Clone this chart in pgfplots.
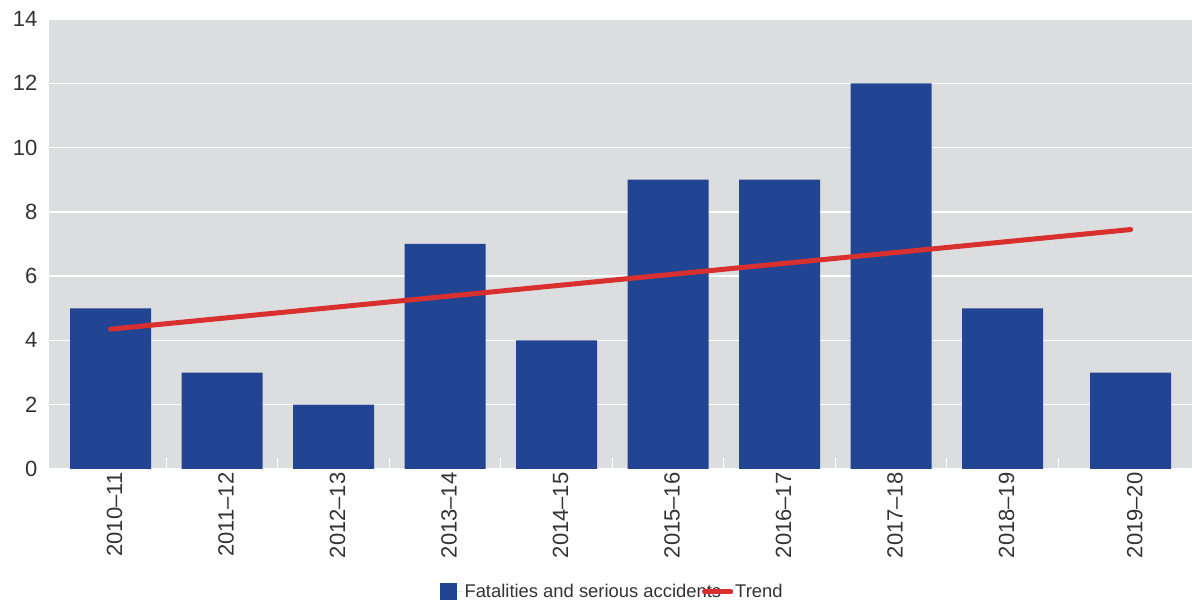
\documentclass[border=0pt]{standalone}
\usepackage{pgfplots}
\pgfplotsset{compat=1.18}
\usepackage{fontspec}
\setmainfont{Liberation Sans}
\definecolor{bgGray}{HTML}{DCDDDF}
\definecolor{barBlue}{HTML}{214493}
\definecolor{trendRed}{HTML}{D8302F}
\definecolor{txt}{HTML}{333333}
\begin{document}
\begin{tikzpicture}
\path[use as bounding box] (0,0) rectangle (1192pt,605pt);
\begin{axis}[
  at={(49pt,136pt)}, anchor=south west,
  width=1143pt, height=450pt, scale only axis,
  xmin=-0.552, xmax=9.70, ymin=0, ymax=14,
  ytick={0,2,...,14},
  xtick={0,1,2,3,4,5,6,7,8,9.15},
  xtick pos=lower,
  xticklabels={2010--11,2011--12,2012--13,2013--14,2014--15,2015--16,2016--17,2017--18,2018--19,2019--20},
  x tick label style={rotate=90, anchor=east, yshift=-4pt},
  y tick label style={xshift=-8pt},
  ticklabel style={font=\fontsize{22}{26}\selectfont, text=txt},
  /pgf/number format/assume math mode=true,
  axis line style={draw=none},
  major tick length=0pt,
  ymajorgrids, grid style={white, line width=1.3pt},
  axis background/.style={fill=bgGray},
  extra x ticks={0.5,1.5,...,8.5},
  extra x tick labels={},
  extra x tick style={major tick length=11pt, tick style={white, line width=1.2pt}, grid=none, xtick pos=lower},
  legend style={at={(0.4926,-0.273)}, anchor=center, draw=none, fill=none,
    legend columns=2, font=\fontsize{18.4}{22}\selectfont, text=txt,
    /tikz/every even column/.append style={column sep=-21pt}},
]
\addplot[ybar, bar width=81pt, fill=barBlue, draw=none,
  legend image code/.code={\fill[barBlue] (0pt,-8.5pt) rectangle (17pt,8.5pt); \path (0pt,0pt) -- (23pt,0pt);}]
  coordinates {(0,5)(1,3)(2,2)(3,7)(4,4)(5,9)(6,9)(7,12)(8,5)(9.15,3)};
\addlegendentry{Fatalities and serious accidents}
\addplot[trendRed, line width=5pt, line cap=round, sharp plot,
  legend image code/.code={\draw[trendRed, line width=5pt, line cap=round] (0pt,0pt) -- (23pt,0pt); \path (0pt,0pt) -- (26pt,0pt);}]
  coordinates {(0,4.35)(9.15,7.45)};
\addlegendentry{Trend}
\end{axis}
\end{tikzpicture}
\end{document}
